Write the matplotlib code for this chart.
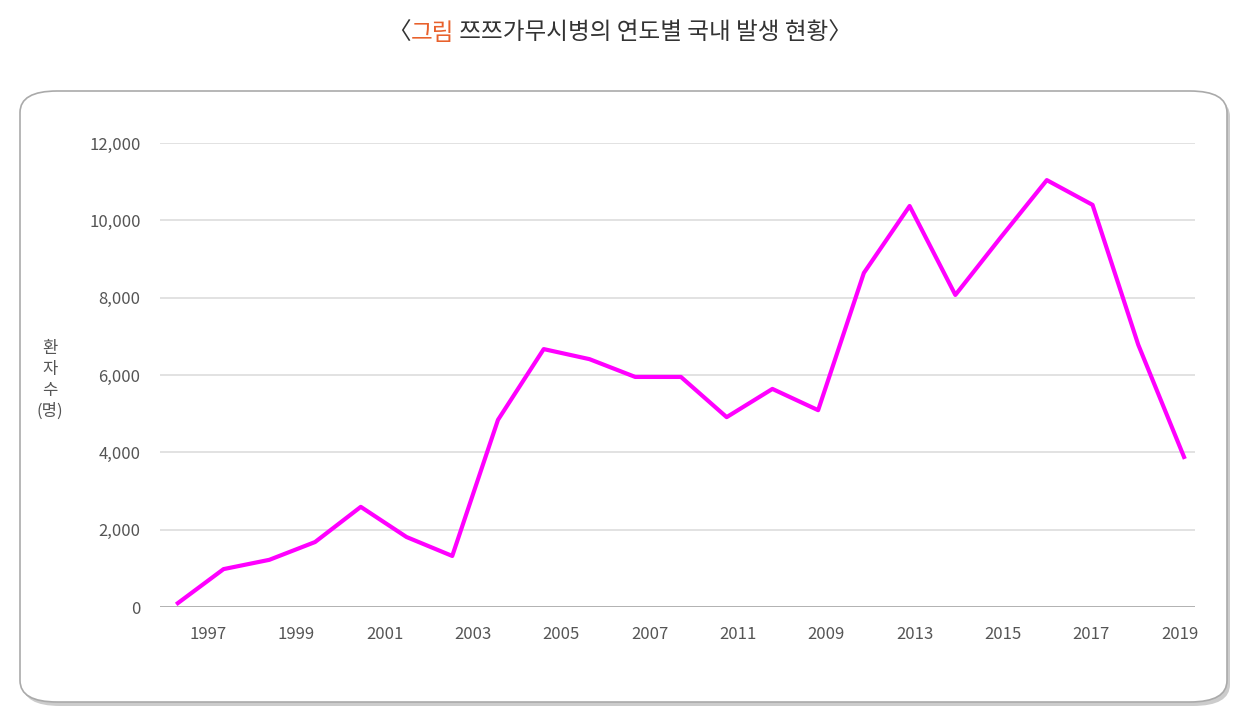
import matplotlib
matplotlib.use("Agg")
import matplotlib.pyplot as plt
import numpy as np
from matplotlib.patches import FancyBboxPatch

plt.rcParams['font.family'] = ['Noto Sans CJK JP', 'Noto Sans CJK KR', 'DejaVu Sans']

years = list(range(1997, 2020))
patients = [100, 980, 1220, 1680, 2590, 1810, 1320, 4840, 6670, 6410, 5950, 5950,
            4910, 5640, 5090, 8640, 10370, 8070, 9570, 11040, 10400, 6780, 3880]
tick_labels = ["1997", "1999", "2001", "2003", "2005", "2007", "2011", "2009",
               "2013", "2015", "2017", "2019"]
y_ticks = [0, 2000, 4000, 6000, 8000, 10000, 12000]

W, H = 1239, 716
fig = plt.figure(figsize=(W/100, H/100), dpi=100)

shadow = FancyBboxPatch((23/W, 1-706/H), 1207/W, 611/H, boxstyle="round,pad=0,rounding_size=0.03",
                        transform=fig.transFigure, fc="#cccccc", ec="none", zorder=0)
box = FancyBboxPatch((20/W, 1-702/H), 1207/W, 611/H, boxstyle="round,pad=0,rounding_size=0.03",
                     transform=fig.transFigure, fc="white", ec="#aaaaaa", lw=1.2, zorder=1)
fig.patches.extend([shadow, box])

# title in three parts, laid out by measured widths
parts = [("〈", "#333333"), ("그림", "#e8612c"), (" 쯔쯔가무시병의 연도별 국내 발생 현황〉", "#333333")]
renderer = fig.canvas.get_renderer()
texts = [fig.text(0, 1-33/H, s, fontsize=17, ha="left", va="center", color=c) for s, c in parts]
widths = [t.get_window_extent(renderer).width / W for t in texts]
xpos = 0.5 - sum(widths) / 2
for t, w in zip(texts, widths):
    t.set_x(xpos)
    xpos += w

ax = fig.add_axes([160/W, 1-607/H, (1195-160)/W, (607-143)/H])
ax.set_zorder(2)
ax.patch.set_alpha(0)
x = np.arange(len(years))
ax.plot(x, patients, color="#ff00ff", lw=3, zorder=3)
ax.set_xlim(-0.39, 22.24)
ax.set_ylim(0, 12000)
ax.set_yticks(y_ticks)
ax.set_yticklabels([f"{v:,}" for v in y_ticks], fontsize=12, color="#555555")
ax.set_xticks(np.linspace(0.66, 21.9, len(tick_labels)))
ax.set_xticklabels(tick_labels, fontsize=12, color="#555555")
ax.tick_params(length=0, pad=14)
ax.grid(axis="y", color="#dddddd", lw=1.2)
for s in ax.spines.values():
    s.set_visible(False)
ax.axhline(0, color="#aaaaaa", lw=1.2)

fig.text(50/W, 1-380/H, "환\n자\n수\n(명)", fontsize=12, ha="center", va="center",
         color="#555555", linespacing=1.3)

fig.savefig("out.png", dpi=100)
